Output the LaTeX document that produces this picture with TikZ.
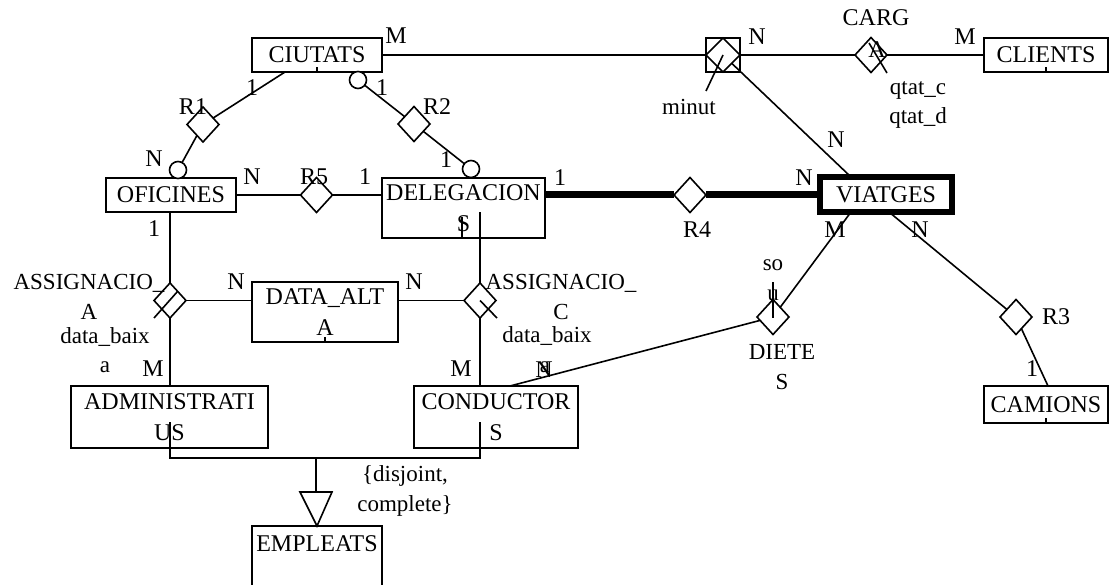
\documentclass[tikz,border=0pt]{standalone}
\usepackage{fontspec}
\setmainfont{Liberation Serif}
\usetikzlibrary{shapes.geometric}
\newcommand\ft{\fontsize{24}{31}\selectfont}
\newcommand\fs{\fontsize{23}{30}\selectfont}
\begin{document}
\begin{tikzpicture}[x=1pt,y=-1pt,
  every node/.style={inner sep=0pt, outer sep=0pt},
  ent/.style={draw, rectangle, line width=1.6pt, font=\ft, align=center},
  rel/.style={draw, diamond, line width=1.6pt, minimum width=32pt, minimum height=35pt},
  opt/.style={draw, circle, line width=1.6pt, minimum size=17pt, fill=white},
  lbl/.style={font=\ft, align=center},
  att/.style={font=\fs, align=center},
  ln/.style={line width=1.6pt}]
\useasboundingbox (0,0) rectangle (1110,585);
\clip (0,0) rectangle (1110,585);
% entities
\node[ent, minimum width=130pt, minimum height=34pt] (ciutats) at (317,55) {CIUTATS};
\node[ent, minimum width=124pt, minimum height=34pt] (clients) at (1046,55) {CLIENTS};
\node[ent, minimum width=130pt, minimum height=34pt] (oficines) at (171,195) {OFICINES};
\node[ent, minimum width=163pt, minimum height=60pt] (deleg) at (463.5,208) {DELEGACION\\S};
\node[ent, line width=6pt, minimum width=132pt, minimum height=35pt] (viatges) at (886,194.5) {VIATGES};
\node[ent, minimum width=146pt, minimum height=60pt] (dataalta) at (325,312) {DATA\_ALT\\A};
\node[ent, minimum width=197pt, minimum height=62pt] (admin) at (169.5,417) {ADMINISTRATI\\US};
\node[ent, minimum width=164pt, minimum height=62pt] (cond) at (496,417) {CONDUCTOR\\S};
\node[ent, minimum width=124pt, minimum height=37pt] (camions) at (1046,404.5) {CAMIONS};
\node[ent, anchor=north, minimum width=130pt, text height=25.5pt, text depth=60pt] (empleats) at (317,526) {EMPLEATS};
% relationships
\node[rel] (r1) at (203,124.5) {};
\node[rel] (r2) at (414,124) {};
\node[rel] (r5) at (316.5,195) {};
\node[rel] (r4) at (690,195) {};
\node[rel] (asA) at (170,300.5) {};
\node[rel] (asC) at (480,300.5) {};
\node[draw, rectangle, line width=1.6pt, minimum width=34pt, minimum height=34pt] (minutbox) at (723,55) {};
\node[rel, minimum width=34pt, minimum height=34pt] (minut) at (723,55) {};
\node[rel] (carg) at (871,55) {};
\node[rel] (dietes) at (773,317) {};
\node[rel] (r3) at (1016,317) {};
% coordinates
\coordinate (cR1) at (285,72);
\coordinate (vTopL) at (851,177);
\coordinate (vBotL) at (851,212);
\coordinate (vBotR) at (889,212);
\coordinate (minutEnd) at (706,91);
\coordinate (cargA) at (869,43);
\coordinate (cargB) at (887,73);
\coordinate (delIn) at (480,212);
\coordinate (condN) at (510,386);
\coordinate (camN) at (1048,386);
\coordinate (soTop) at (773,282);
\coordinate (soBot) at (773,318);
\coordinate (asAa) at (177.5,291.5);
\coordinate (asAb) at (154,318);
\coordinate (asCb) at (497,318);
\coordinate (adminIn) at (170,422);
\coordinate (condIn) at (480,422);
\coordinate (isaL) at (170,458);
\coordinate (isaR) at (480,458);
\coordinate (isaM) at (316,458);
\coordinate (triL) at (300,492);
\coordinate (triR) at (332,492);
\coordinate (triA) at (317,526);
% connectors
\draw[ln] (ciutats) -- (minutbox);
\draw[ln] (minutbox) -- (carg);
\draw[ln] (carg) -- (clients);
\draw[ln] (minut) -- (vTopL);
\draw[ln] (minut.center) -- (minutEnd);
\draw[ln] (cargA) -- (cargB);
\draw[ln] (cR1) -- (r1);
\draw[ln] (oficines) -- (r5);
\draw[ln] (r5) -- (r5 -| deleg.west);
\draw[line width=7pt] (r4 -| deleg.east) -- (r4);
\draw[line width=7pt] (r4) -- (r4 -| viatges.west);
\draw[ln] (asA) -- (asA |- oficines.south);
\draw[ln] (asA) -- (asA |- admin.north);
\draw[ln] (asA) -- (asA -| dataalta.west);
\draw[ln] (asC) -- (asC -| dataalta.east);
\draw[ln] (asC) -- (delIn);
\draw[ln] (asC) -- (asC |- cond.north);
\draw[ln] (asAa) -- (asAb);
\draw[ln] (asC.center) -- (asCb);
\draw[ln] (dietes) -- (condN);
\draw[ln] (dietes) -- (vBotL);
\draw[ln] (soTop) -- (soBot);
\draw[ln] (vBotR) -- (r3);
\draw[ln] (r3) -- (camN);
\draw[ln] (adminIn) -- (isaL) -- (isaR) -- (condIn);
\draw[ln] (isaM) -- (triL -| isaM);
\draw[ln] (triL) -- (triR) -- (triA) -- cycle;
% small stubs
\draw[ln] (ciutats.south) -- ++(0,-5);
\draw[ln] (clients.south) -- ++(0,-5);
\draw[ln] (camions.south) -- ++(0,-5);
\draw[ln] (dataalta.south) -- ++(0,-5);
\draw[ln] (deleg.south) ++(-1.5,0) -- ++(0,-21);
% optional circles
\node[opt] (oO) at (178,170) {};
\node[opt] (oC) at (358,80) {};
\node[opt] (oD) at (471,169) {};
\draw[ln] (r1) -- (oO);
\draw[ln] (oC) -- (r2);
\draw[ln] (r2) -- (oD);
% labels
\node[lbl] (l1) at (396,36) {M};
\node[lbl] (l2) at (252,88) {1};
\node[lbl] (l3) at (193,107) {R1};
\node[lbl] (l4) at (154,159) {N};
\node[lbl] (l5) at (382,88) {1};
\node[lbl] (l6) at (437,107) {R2};
\node[lbl] (l7) at (446,160) {1};
\node[lbl] (l8) at (252,177) {N};
\node[lbl] (l9) at (314,177) {R5};
\node[lbl] (l10) at (365,177) {1};
\node[lbl] (l11) at (560,178) {1};
\node[lbl] (l12) at (804,178) {N};
\node[lbl] (l13) at (697,230) {R4};
\node[lbl] (l14) at (757,37) {N};
\node[lbl] (l15) at (876,18) {CARG};
\node[lbl] (l16) at (877,50) {A};
\node[lbl] (l17) at (965,37) {M};
\node[att] (l18) at (689,107) {minut};
\node[att] (l19) at (918,90) {qtat\_c};
\node[att] (l20) at (918,118) {qtat\_d};
\node[lbl] (l21) at (836,140) {N};
\node[lbl] (l22) at (835,230) {M};
\node[lbl] (l23) at (920,230) {N};
\node[lbl] (l24) at (154,229) {1};
\node[att] (l25) at (89,297) {ASSIGNACIO\_\\A};
\node[att] (l26) at (105,337) {data\_baix};
\node[att] (l27) at (105,367) {a};
\node[lbl] (l28) at (236,282) {N};
\node[lbl] (l29) at (414,282) {N};
\node[att] (l30) at (561,297) {ASSIGNACIO\_\\C};
\node[att] (l31) at (547,336) {data\_baix};
\node[att] (l32) at (545,367) {a};
\node[lbl] (l33) at (153,369) {M};
\node[lbl] (l34) at (461,369) {M};
\node[lbl] (l35) at (544,370) {N};
\node[att] (l36) at (773,265) {so};
\node[att] (l37) at (773,295) {u};
\node[att] (l38) at (782,367) {DIETE\\S};
\node[lbl] (l39) at (1056,317) {R3};
\node[lbl] (l40) at (1032,369) {1};
\node[att] (l41) at (405,491) {\{disjoint,\\complete\}};
\end{tikzpicture}
\end{document}
